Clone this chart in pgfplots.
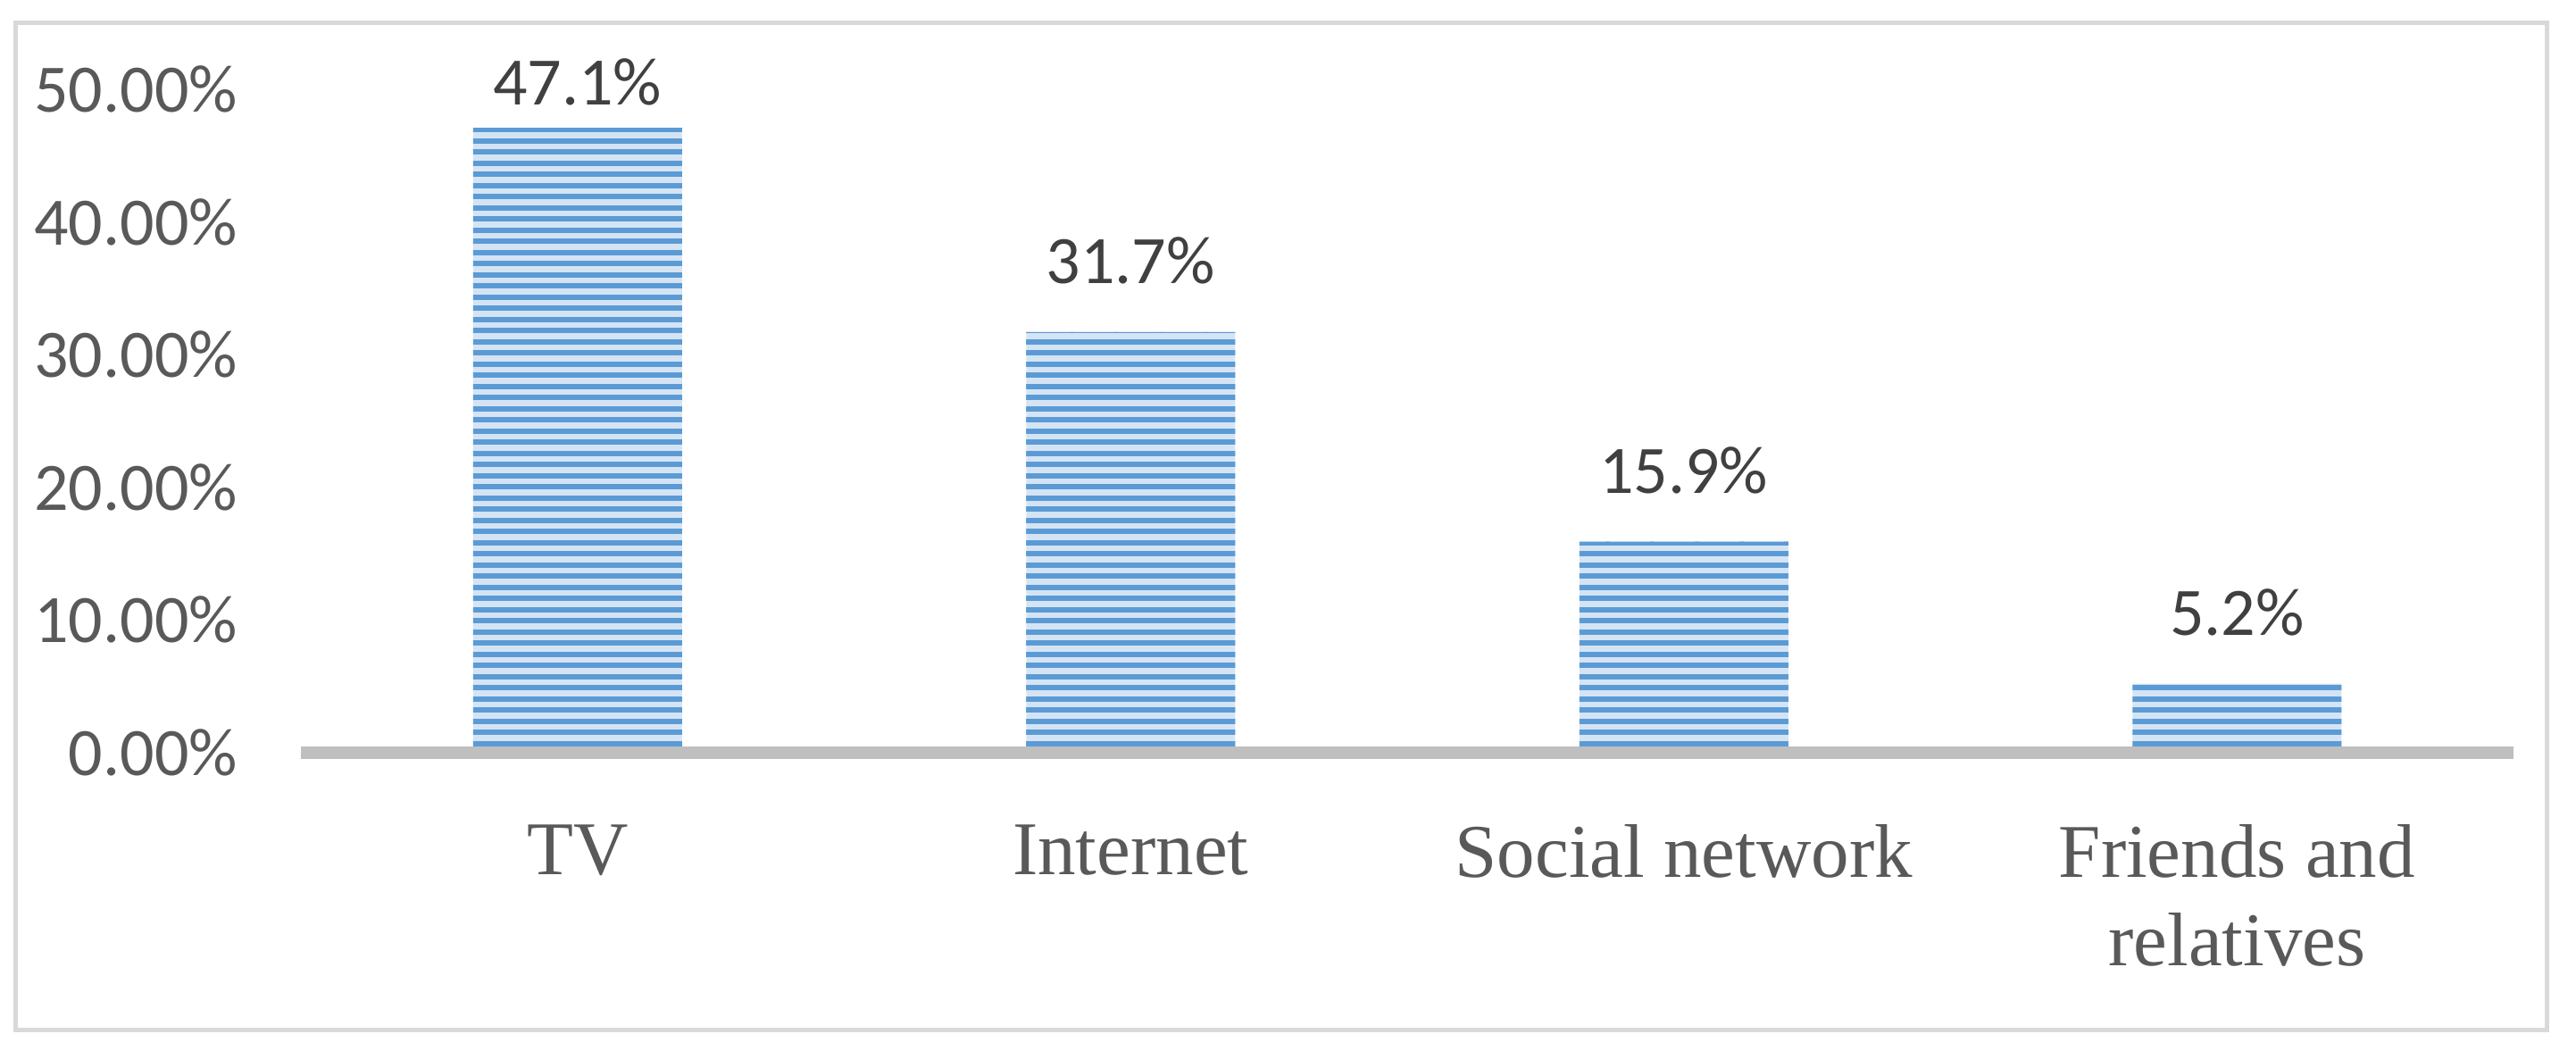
\documentclass[border=0pt]{standalone}
\usepackage{fontspec}
\usepackage{pgfplots}
\usepackage{pgfplotstable}
\pgfplotsset{compat=1.18}
\usetikzlibrary{patterns.meta}
\setmainfont{Liberation Serif}
\newfontfamily\calibri{Carlito}
\definecolor{barblue}{HTML}{5B9BD5}
\definecolor{barlight}{HTML}{D5E4F4}
\definecolor{baredge}{HTML}{A9C8E8}
\definecolor{axisgray}{HTML}{BFBFBF}
\definecolor{bordergray}{HTML}{D9D9D9}
\definecolor{tickgray}{HTML}{595959}
\definecolor{labdark}{HTML}{404040}
\pgfdeclarepatternformonly{hstripes}{\pgfqpoint{-1pt}{-1pt}}{\pgfqpoint{11pt}{3.5pt}}{\pgfqpoint{10pt}{2.5pt}}{%
  \pgfpathrectangle{\pgfqpoint{-0.5pt}{0pt}}{\pgfqpoint{11pt}{1.2pt}}%
  \pgfusepath{fill}%
}
\pgfplotstableread{
x y dy
0 47.1 4.7
1 31.7 10.6
2 15.9 10.6
3 5.2 10.6
}\datatable
\begin{document}
\begin{tikzpicture}
\useasboundingbox (-67.4pt,-68.6pt) rectangle (509.6pt,168.6pt);
\fill[white] (-67.4pt,-68.6pt) rectangle (509.6pt,168.6pt);
\draw[line width=1pt, color=bordergray] (-63.8pt,-62.2pt) rectangle (503pt,163.4pt);
\begin{axis}[
  at={(0pt,0pt)}, anchor=south west,
  scale only axis, width=495.6pt, height=148.6pt,
  xmin=-0.5, xmax=3.5, ymin=0, ymax=50,
  clip=false, axis on top,
  separate axis lines,
  axis x line*=bottom, axis y line*=left,
  x axis line style={draw=axisgray, line width=2.8pt, -},
  y axis line style={draw=none},
  tick style={draw=none},
  major tick length=0pt,
  xtick={0,1,2,3},
  xticklabels={TV, Internet, Social network, {Friends and\\relatives}},
  xticklabel style={font=\fontsize{17}{19.8}\selectfont, align=center, anchor=north, inner sep=0pt, yshift=-16pt, text=tickgray},
  ytick={0,10,20,30,40,50},
  yticklabels={0.00\%,10.00\%,20.00\%,30.00\%,40.00\%,50.00\%},
  yticklabel style={font=\calibri\fontsize{15.2}{18}\selectfont, anchor=east, inner sep=0pt, xshift=-14pt, text=tickgray},
  ybar, bar width=46.8pt, bar shift=0pt,
]
\addplot[ybar, draw=none, fill=barlight] table[x=x,y=y] {\datatable};
\addplot[ybar, draw=none, pattern=hstripes, pattern color=barblue,
  visualization depends on={\thisrow{dy} \as \dy},
  nodes near coords={\pgfmathprintnumber[fixed,fixed zerofill,precision=1,assume math mode=true]{\pgfplotspointmeta}\%},
  every node near coord/.append style={font=\calibri\fontsize{15.2}{18}\selectfont, text=labdark, anchor=south, inner sep=0pt, yshift=\dy pt},
] table[x=x,y=y] {\datatable};
\end{axis}
\end{tikzpicture}
\end{document}
